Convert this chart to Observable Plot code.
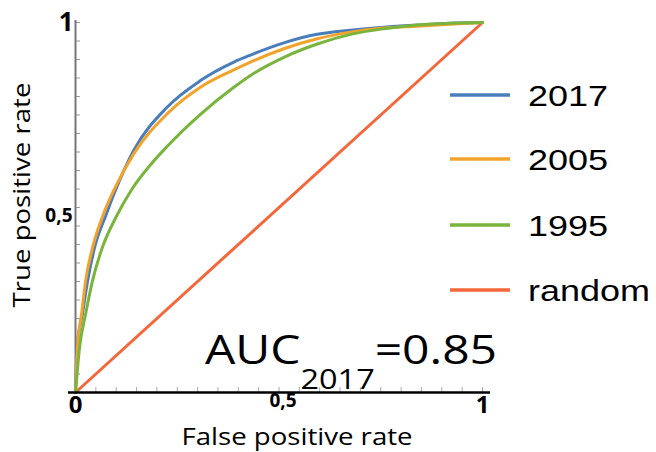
<!DOCTYPE html>
<html><head><meta charset="utf-8">
<script src="https://cdn.jsdelivr.net/npm/d3@7"></script>
<script src="https://cdn.jsdelivr.net/npm/@observablehq/plot@0.6"></script>
<style>body{margin:0;background:#fff} #chart svg{display:block}</style>
</head><body><div id="chart"></div>
<script>
// ROC curves
const fpr2017 = [0, 0.004, 0.017, 0.03, 0.047, 0.075, 0.098, 0.143, 0.225, 0.307, 0.389, 0.43, 0.512, 0.594, 0.676, 0.757, 0.84, 0.921, 1];
const tpr2017 = [0, 0.122, 0.213, 0.303, 0.392, 0.48, 0.546, 0.654, 0.771, 0.843, 0.893, 0.912, 0.945, 0.968, 0.979, 0.987, 0.993, 0.998, 1];
const fpr2005 = [0, 0.005, 0.015, 0.025, 0.042, 0.068, 0.094, 0.143, 0.225, 0.307, 0.389, 0.43, 0.512, 0.594, 0.676, 0.757, 0.84, 0.921, 1];
const tpr2005 = [0, 0.122, 0.213, 0.303, 0.392, 0.48, 0.546, 0.645, 0.753, 0.825, 0.872, 0.893, 0.929, 0.956, 0.974, 0.985, 0.99, 0.995, 1];
const fpr1995 = [0, 0.01, 0.025, 0.042, 0.066, 0.1, 0.139, 0.184, 0.225, 0.307, 0.389, 0.43, 0.512, 0.594, 0.676, 0.757, 0.84, 0.921, 1];
const tpr1995 = [0, 0.122, 0.213, 0.303, 0.392, 0.475, 0.55, 0.615, 0.665, 0.752, 0.825, 0.857, 0.906, 0.942, 0.968, 0.983, 0.993, 0.998, 1];
const fprRandom = [0, 1];
const tprRandom = [0, 1];

const seriesNames = ["2017", "2005", "1995", "random"];
const seriesColors = ["#4A7EBB", "#F2A32C", "#79B43D", "#F4673A"];
const drawOrder = ["random", "2017", "2005", "1995"];

const xTickValues = [0, 0.5, 1];
const xTickLabels = ["0", "0,5", "1"];
const yTickValues = [0.5, 1];
const yTickLabels = ["0,5", "1"];
const minorTicks = d3.range(0, 1.0001, 0.05);

const xTitle = "False positive rate";
const yTitle = "True positive rate";
const aucMain = "AUC";
const aucSub = "2017";
const aucValue = "=0.85";

const seriesData = {
  "2017": [fpr2017, tpr2017],
  "2005": [fpr2005, tpr2005],
  "1995": [fpr1995, tpr1995],
  "random": [fprRandom, tprRandom]
};
const rows = [];
for (const s of drawOrder) {
  const [xs, ys] = seriesData[s];
  xs.forEach((x, i) => rows.push({series: s, x, y: ys[i]}));
}
const xt = xTickValues.map((v, i) => ({v, label: xTickLabels[i]}));
const yt = yTickValues.map((v, i) => ({v, label: yTickLabels[i]}));

const font = "'Open Sans', sans-serif";

const plot = Plot.plot({
  width: 656, height: 452,
  marginLeft: 75, marginRight: 174, marginTop: 22, marginBottom: 60,
  x: {domain: [0, 1], axis: null},
  y: {domain: [0, 1], axis: null},
  color: {domain: seriesNames, range: seriesColors},
  style: {background: "#fff", fontFamily: font, color: "#000"},
  marks: [
    Plot.ruleX(minorTicks, {x: d => d, y1: 0, y2: 0, insetTop: -5, stroke: "#aaa", strokeWidth: 1}),
    Plot.ruleY(minorTicks, {y: d => d, x1: 0, x2: 0, insetRight: -5, stroke: "#999", strokeWidth: 1}),
    Plot.ruleX([0], {stroke: "#777", strokeWidth: 2, insetTop: -2}),
    Plot.line(rows, {x: "x", y: "y", z: "series", stroke: "series", strokeWidth: 3, curve: "monotone-x"}),
    Plot.ruleY([0], {stroke: "#000", strokeWidth: 2.5, insetLeft: -7, insetRight: -8}),
    Plot.text(xt.filter(d => d.label !== "0,5"), {x: "v", text: "label", frameAnchor: "bottom", dy: 20, fontSize: 24, fontWeight: "bold"}),
    Plot.text(xt.filter(d => d.label === "0,5"), {x: "v", text: "label", frameAnchor: "bottom", dy: 14, dx: 4, fontSize: 19, fontWeight: "bold"}),
    Plot.text(yt.filter(d => d.label !== "0,5"), {y: "v", text: "label", frameAnchor: "left", textAnchor: "end", dx: -2, fontSize: 26, fontWeight: "bold"}),
    Plot.text(yt.filter(d => d.label === "0,5"), {y: "v", text: "label", frameAnchor: "left", textAnchor: "end", dx: -3, dy: 8, fontSize: 19, fontWeight: "bold"})
  ]
});

document.getElementById("chart").appendChild(plot);

const svg = d3.select(plot);
// axis titles
svg.append("text").attr("text-anchor", "middle").attr("transform", "translate(297,437) scale(1.2,1)")
  .attr("dy", "0.35em").attr("font-family", font).attr("font-size", 23).attr("fill", "#000").text(xTitle);
svg.append("text").attr("text-anchor", "middle").attr("transform", "translate(22,195) rotate(-90) scale(1.2,1)")
  .attr("dy", "0.35em").attr("font-family", font).attr("font-size", 23).attr("fill", "#000").text(yTitle);

// legend
const legendY = [95, 159, 225, 290];
const lg = svg.append("g");
seriesNames.forEach((name, i) => {
  lg.append("line").attr("x1", 450).attr("x2", 510).attr("y1", legendY[i]).attr("y2", legendY[i])
    .attr("stroke", seriesColors[i]).attr("stroke-width", 3.5);
  lg.append("text").attr("text-anchor", "start").attr("transform", `translate(528,${legendY[i]}) scale(1.2,1)`)
    .attr("dy", "0.36em").attr("font-family", "'Liberation Sans', Arial, sans-serif")
    .attr("font-size", 30).attr("fill", "#000").text(name);
});
// AUC annotation
const auc = svg.append("text").attr("text-anchor", "start").attr("transform", "translate(205,364) scale(1.2,1)")
  .attr("font-family", font).attr("font-size", 40).attr("fill", "#000");
auc.append("tspan").text(aucMain);
auc.append("tspan").attr("font-size", 27).attr("dy", 25).text(aucSub);
auc.append("tspan").attr("dy", -25).text(aucValue);
</script>
</body></html>
